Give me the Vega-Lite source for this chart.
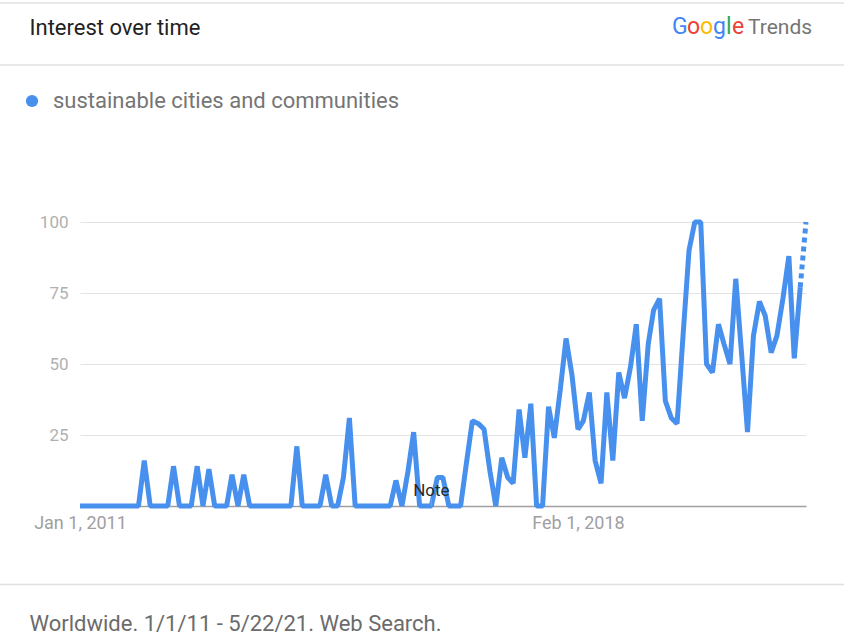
{
  "$schema": "https://vega.github.io/schema/vega-lite/v6.json",
  "width": 726,
  "height": 284,
  "autosize": "none",
  "padding": {"left": 80, "top": 222, "right": 38, "bottom": 129},
  "background": "white",
  "config": {"view": {"stroke": null}, "font": "Roboto"},
  "data": {
    "format": {"parse": {"date": "date"}},
    "values": [
      {"date": "2011-01-01", "value": 0}, {"date": "2011-02-01", "value": 0}, {"date": "2011-03-01", "value": 0}, {"date": "2011-04-01", "value": 0},
      {"date": "2011-05-01", "value": 0}, {"date": "2011-06-01", "value": 0}, {"date": "2011-07-01", "value": 0}, {"date": "2011-08-01", "value": 0},
      {"date": "2011-09-01", "value": 0}, {"date": "2011-10-01", "value": 0}, {"date": "2011-11-01", "value": 0}, {"date": "2011-12-01", "value": 16},
      {"date": "2012-01-01", "value": 0}, {"date": "2012-02-01", "value": 0}, {"date": "2012-03-01", "value": 0}, {"date": "2012-04-01", "value": 0},
      {"date": "2012-05-01", "value": 14}, {"date": "2012-06-01", "value": 0}, {"date": "2012-07-01", "value": 0}, {"date": "2012-08-01", "value": 0},
      {"date": "2012-09-01", "value": 14}, {"date": "2012-10-01", "value": 0}, {"date": "2012-11-01", "value": 13}, {"date": "2012-12-01", "value": 0},
      {"date": "2013-01-01", "value": 0}, {"date": "2013-02-01", "value": 0}, {"date": "2013-03-01", "value": 11}, {"date": "2013-04-01", "value": 0},
      {"date": "2013-05-01", "value": 11}, {"date": "2013-06-01", "value": 0}, {"date": "2013-07-01", "value": 0}, {"date": "2013-08-01", "value": 0},
      {"date": "2013-09-01", "value": 0}, {"date": "2013-10-01", "value": 0}, {"date": "2013-11-01", "value": 0}, {"date": "2013-12-01", "value": 0},
      {"date": "2014-01-01", "value": 0}, {"date": "2014-02-01", "value": 21}, {"date": "2014-03-01", "value": 0}, {"date": "2014-04-01", "value": 0},
      {"date": "2014-05-01", "value": 0}, {"date": "2014-06-01", "value": 0}, {"date": "2014-07-01", "value": 11}, {"date": "2014-08-01", "value": 0},
      {"date": "2014-09-01", "value": 0}, {"date": "2014-10-01", "value": 10}, {"date": "2014-11-01", "value": 31}, {"date": "2014-12-01", "value": 0},
      {"date": "2015-01-01", "value": 0}, {"date": "2015-02-01", "value": 0}, {"date": "2015-03-01", "value": 0}, {"date": "2015-04-01", "value": 0},
      {"date": "2015-05-01", "value": 0}, {"date": "2015-06-01", "value": 0}, {"date": "2015-07-01", "value": 9}, {"date": "2015-08-01", "value": 0},
      {"date": "2015-09-01", "value": 12}, {"date": "2015-10-01", "value": 26}, {"date": "2015-11-01", "value": 0}, {"date": "2015-12-01", "value": 0},
      {"date": "2016-01-01", "value": 0}, {"date": "2016-02-01", "value": 10}, {"date": "2016-03-01", "value": 10}, {"date": "2016-04-01", "value": 0},
      {"date": "2016-05-01", "value": 0}, {"date": "2016-06-01", "value": 0}, {"date": "2016-07-01", "value": 15}, {"date": "2016-08-01", "value": 30},
      {"date": "2016-09-01", "value": 29}, {"date": "2016-10-01", "value": 27}, {"date": "2016-11-01", "value": 12}, {"date": "2016-12-01", "value": 0},
      {"date": "2017-01-01", "value": 17}, {"date": "2017-02-01", "value": 10}, {"date": "2017-03-01", "value": 8}, {"date": "2017-04-01", "value": 34},
      {"date": "2017-05-01", "value": 17}, {"date": "2017-06-01", "value": 36}, {"date": "2017-07-01", "value": 0}, {"date": "2017-08-01", "value": 0},
      {"date": "2017-09-01", "value": 35}, {"date": "2017-10-01", "value": 24}, {"date": "2017-11-01", "value": 41}, {"date": "2017-12-01", "value": 59},
      {"date": "2018-01-01", "value": 46}, {"date": "2018-02-01", "value": 27}, {"date": "2018-03-01", "value": 30}, {"date": "2018-04-01", "value": 40},
      {"date": "2018-05-01", "value": 16}, {"date": "2018-06-01", "value": 8}, {"date": "2018-07-01", "value": 40}, {"date": "2018-08-01", "value": 16},
      {"date": "2018-09-01", "value": 47}, {"date": "2018-10-01", "value": 38}, {"date": "2018-11-01", "value": 49}, {"date": "2018-12-01", "value": 64},
      {"date": "2019-01-01", "value": 30}, {"date": "2019-02-01", "value": 57}, {"date": "2019-03-01", "value": 69}, {"date": "2019-04-01", "value": 73},
      {"date": "2019-05-01", "value": 37}, {"date": "2019-06-01", "value": 31}, {"date": "2019-07-01", "value": 29}, {"date": "2019-08-01", "value": 60},
      {"date": "2019-09-01", "value": 90}, {"date": "2019-10-01", "value": 100}, {"date": "2019-11-01", "value": 100}, {"date": "2019-12-01", "value": 50},
      {"date": "2020-01-01", "value": 47}, {"date": "2020-02-01", "value": 64}, {"date": "2020-03-01", "value": 57}, {"date": "2020-04-01", "value": 50},
      {"date": "2020-05-01", "value": 80}, {"date": "2020-06-01", "value": 53}, {"date": "2020-07-01", "value": 26}, {"date": "2020-08-01", "value": 60},
      {"date": "2020-09-01", "value": 72}, {"date": "2020-10-01", "value": 67}, {"date": "2020-11-01", "value": 54}, {"date": "2020-12-01", "value": 60},
      {"date": "2021-01-01", "value": 73}, {"date": "2021-02-01", "value": 88}, {"date": "2021-03-01", "value": 52}, {"date": "2021-04-01", "value": 77},
      {"date": "2021-05-01", "value": 100}
    ]
  },
  "layer": [
    {
      "transform": [{"filter": "datum.date < utc(2021, 4, 1)"}],
      "mark": {"type": "line", "strokeWidth": 5, "strokeJoin": "bevel"},
      "encoding": {
        "x": {
          "field": "date", "type": "temporal",
          "scale": {"type": "utc", "nice": false, "domain": [{"year": 2011, "month": 1, "date": 1, "utc": true}, {"year": 2021, "month": 5, "date": 1, "utc": true}]},
          "axis": {
            "values": [{"year": 2011, "month": 1, "date": 1, "utc": true}, {"year": 2018, "month": 2, "date": 1, "utc": true}],
            "labelExpr": "utcFormat(datum.value, '%b %-d, %Y')",
            "labelFont": "Roboto", "labelFontSize": 18, "labelColor": "#a0a0a0", "labelPadding": 8,
            "labelFlush": false, "labelOverlap": false,
            "ticks": false, "grid": false, "domain": true, "domainColor": "#a0a0a0", "domainWidth": 1.5,
            "title": "Worldwide. 1/1/11 - 5/22/21. Web Search.",
            "titleX": -51, "titleY": 124, "titleAlign": "left", "titleBaseline": "alphabetic", "titleAnchor": "start",
            "titleFont": "Roboto", "titleFontSize": 22, "titleFontWeight": "normal", "titleColor": "#6b6b6b"
          }
        },
        "y": {
          "field": "value", "type": "quantitative",
          "scale": {"domain": [0, 100], "nice": false, "zero": true},
          "axis": {
            "values": [25, 50, 75, 100],
            "grid": true, "gridColor": "#e3e3e3", "gridWidth": 1,
            "domain": false, "ticks": false, "labelPadding": 12,
            "labelFont": "Roboto", "labelFontSize": 17, "labelColor": "#b0b0b0",
            "title": "Interest over time",
            "titleX": -51, "titleY": -188, "titleAngle": 0, "titleAlign": "left", "titleBaseline": "alphabetic", "titleAnchor": "start",
            "titleFont": "Roboto", "titleFontSize": 22, "titleFontWeight": "normal", "titleColor": "#222222"
          }
        },
        "color": {
          "datum": "sustainable cities and communities",
          "scale": {"range": ["#4790ee"]},
          "legend": {
            "orient": "none", "legendX": -59, "legendY": -132, "title": null, "padding": 0,
            "symbolType": "circle", "symbolSize": 150, "symbolFillColor": "#4790ee", "symbolStrokeWidth": 0, "symbolOpacity": 1,
            "labelFont": "Roboto", "labelFontSize": 22, "labelColor": "#757575", "labelOffset": 10, "labelLimit": 600
          }
        }
      }
    },
    {
      "transform": [{"filter": "datum.date >= utc(2021, 3, 1)"}],
      "mark": {"type": "line", "strokeWidth": 5, "strokeDash": [5, 4], "color": "#4790ee"},
      "encoding": {
        "x": {"field": "date", "type": "temporal"},
        "y": {"field": "value", "type": "quantitative"}
      }
    },
    {
      "data": {"values": [{}]},
      "mark": {"type": "rule", "color": "#e0e0e0", "strokeWidth": 1.5},
      "encoding": {
        "x": {"datum": {"year": 2009, "month": 1, "date": 1, "utc": true}, "type": "temporal"},
        "x2": {"datum": {"year": 2023, "month": 1, "date": 1, "utc": true}},
        "y": {"datum": 177.1, "type": "quantitative"}
      }
    },
    {
      "data": {"values": [{}]},
      "mark": {"type": "rule", "color": "#e0e0e0", "strokeWidth": 1.5},
      "encoding": {
        "x": {"datum": {"year": 2009, "month": 1, "date": 1, "utc": true}, "type": "temporal"},
        "x2": {"datum": {"year": 2023, "month": 1, "date": 1, "utc": true}},
        "y": {"datum": 155.3, "type": "quantitative"}
      }
    },
    {
      "data": {"values": [{}]},
      "mark": {"type": "rule", "color": "#e0e0e0", "strokeWidth": 1.5},
      "encoding": {
        "x": {"datum": {"year": 2009, "month": 1, "date": 1, "utc": true}, "type": "temporal"},
        "x2": {"datum": {"year": 2023, "month": 1, "date": 1, "utc": true}},
        "y": {"datum": -27.6, "type": "quantitative"}
      }
    },
    {
      "data": {"values": [{}]},
      "mark": {"type": "rule", "color": "#9e9e9e", "strokeWidth": 1},
      "encoding": {
        "x": {"datum": {"year": 2016, "month": 1, "date": 1, "utc": true}, "type": "temporal"},
        "y": {"datum": 0, "type": "quantitative"},
        "y2": {"datum": 2.5}
      }
    },
    {
      "data": {"values": [{}]},
      "mark": {"type": "text", "text": "Note", "font": "Roboto", "fontSize": 17, "color": "#2a2a2a", "align": "center", "baseline": "middle"},
      "encoding": {
        "x": {"datum": {"year": 2016, "month": 1, "date": 1, "utc": true}, "type": "temporal"},
        "y": {"datum": 5.3, "type": "quantitative"}
      }
    },
    {
      "data": {"values": [{}]},
      "mark": {"type": "text", "text": "G", "font": "Roboto", "fontSize": 23, "color": "#4285F4", "align": "left", "baseline": "alphabetic", "dx": -134},
      "encoding": {
        "x": {"datum": {"year": 2021, "month": 5, "date": 1, "utc": true}, "type": "temporal"},
        "y": {"datum": 166.2, "type": "quantitative"}
      }
    },
    {
      "data": {"values": [{}]},
      "mark": {"type": "text", "text": "o", "font": "Roboto", "fontSize": 23, "color": "#EA4335", "align": "left", "baseline": "alphabetic", "dx": -119},
      "encoding": {
        "x": {"datum": {"year": 2021, "month": 5, "date": 1, "utc": true}, "type": "temporal"},
        "y": {"datum": 166.2, "type": "quantitative"}
      }
    },
    {
      "data": {"values": [{}]},
      "mark": {"type": "text", "text": "o", "font": "Roboto", "fontSize": 23, "color": "#FBBC05", "align": "left", "baseline": "alphabetic", "dx": -106},
      "encoding": {
        "x": {"datum": {"year": 2021, "month": 5, "date": 1, "utc": true}, "type": "temporal"},
        "y": {"datum": 166.2, "type": "quantitative"}
      }
    },
    {
      "data": {"values": [{}]},
      "mark": {"type": "text", "text": "g", "font": "Roboto", "fontSize": 23, "color": "#4285F4", "align": "left", "baseline": "alphabetic", "dx": -93},
      "encoding": {
        "x": {"datum": {"year": 2021, "month": 5, "date": 1, "utc": true}, "type": "temporal"},
        "y": {"datum": 166.2, "type": "quantitative"}
      }
    },
    {
      "data": {"values": [{}]},
      "mark": {"type": "text", "text": "l", "font": "Roboto", "fontSize": 23, "color": "#34A853", "align": "left", "baseline": "alphabetic", "dx": -80},
      "encoding": {
        "x": {"datum": {"year": 2021, "month": 5, "date": 1, "utc": true}, "type": "temporal"},
        "y": {"datum": 166.2, "type": "quantitative"}
      }
    },
    {
      "data": {"values": [{}]},
      "mark": {"type": "text", "text": "e", "font": "Roboto", "fontSize": 23, "color": "#EA4335", "align": "left", "baseline": "alphabetic", "dx": -74},
      "encoding": {
        "x": {"datum": {"year": 2021, "month": 5, "date": 1, "utc": true}, "type": "temporal"},
        "y": {"datum": 166.2, "type": "quantitative"}
      }
    },
    {
      "data": {"values": [{}]},
      "mark": {"type": "text", "text": "Trends", "font": "Roboto", "fontSize": 21, "color": "#757575", "align": "left", "baseline": "alphabetic", "dx": -58},
      "encoding": {
        "x": {"datum": {"year": 2021, "month": 5, "date": 1, "utc": true}, "type": "temporal"},
        "y": {"datum": 166.2, "type": "quantitative"}
      }
    }
  ]
}
